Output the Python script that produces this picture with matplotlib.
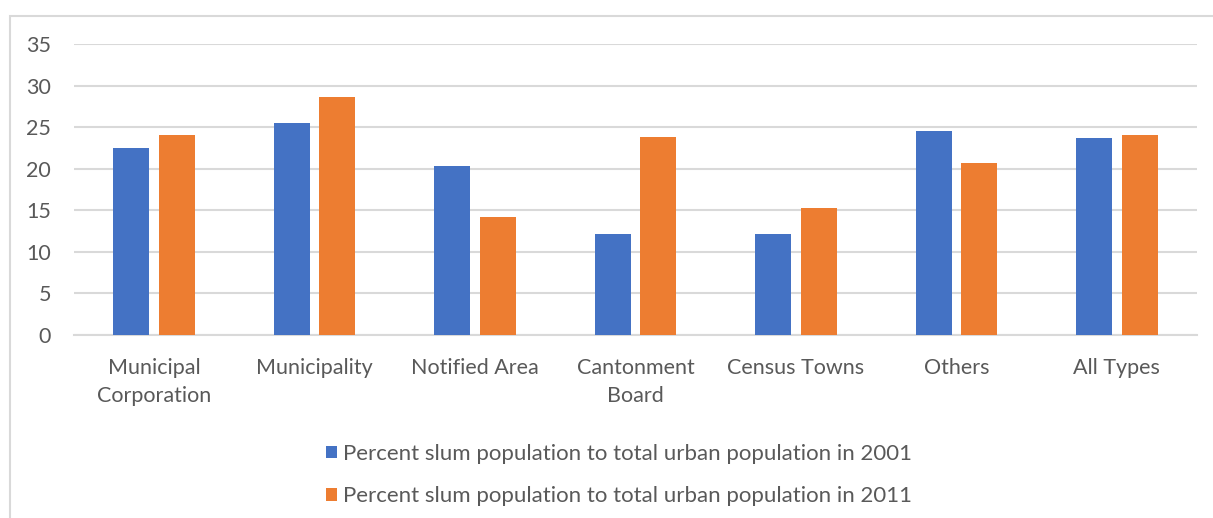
import matplotlib.pyplot as plt
import numpy as np
from matplotlib.patches import Rectangle

categories = ["Municipal\nCorporation", "Municipality", "Notified Area",
              "Cantonment\nBoard", "Census Towns", "Others", "All Types"]
slum_2001 = [22.5, 25.5, 20.3, 12.1, 12.1, 24.5, 23.7]
slum_2011 = [24.0, 28.6, 14.2, 23.8, 15.25, 20.7, 24.0]
labels = ["Percent slum population to total urban population in 2001",
          "Percent slum population to total urban population in 2011"]

plt.rcParams["font.family"] = ["Lato", "DejaVu Sans"]
text_color = "#595959"

fig = plt.figure(figsize=(12.13, 5.18), dpi=100)
ax = fig.add_axes([74 / 1213, 183 / 518, 1123 / 1213, 291 / 518])

# outer chart frame (left and top edges only)
fig.patches.append(Rectangle((10 / 1213, -0.1), 1.2, (518 - 16) / 518 + 0.1,
                             transform=fig.transFigure, fill=False,
                             edgecolor="#d9d9d9", linewidth=1.5))

x = np.arange(len(categories))
w = 0.224
ax.bar(x - 0.142, slum_2001, w, color="#4472C4", label=labels[0], zorder=3)
ax.bar(x + 0.142, slum_2011, w, color="#ED7D31", label=labels[1], zorder=3)

ax.set_xlim(-0.5, len(categories) - 0.5)
ax.set_ylim(0, 35)
ax.set_yticks(range(0, 36, 5))
ax.yaxis.grid(True, color="#d9d9d9", linewidth=1.5, zorder=0)
ax.set_xticks(x)
ax.set_xticklabels(categories, linespacing=1.5)
ax.tick_params(axis="both", length=0, labelsize=15.5, colors=text_color)
ax.tick_params(axis="x", pad=16.5)
ax.tick_params(axis="y", pad=16.5)
for side in ["top", "right", "left"]:
    ax.spines[side].set_visible(False)
ax.spines["bottom"].set_color("#d9d9d9")
ax.spines["bottom"].set_linewidth(1.5)

fig.legend(loc="center", bbox_to_anchor=(619 / 1213, 1 - 475 / 518),
           ncol=1, frameon=False, fontsize=16, labelcolor=text_color,
           handlelength=0.5, handleheight=0.5, handletextpad=0.25,
           labelspacing=1.0)

fig.savefig("out.png", dpi=100, facecolor="white")
